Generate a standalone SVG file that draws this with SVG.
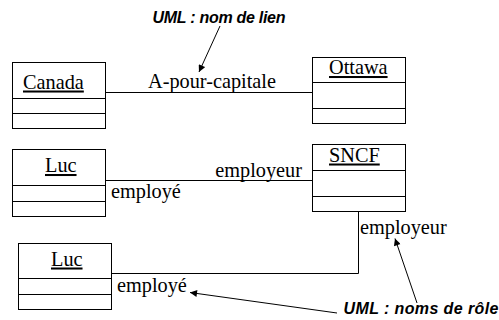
<svg xmlns="http://www.w3.org/2000/svg" width="499" height="320" viewBox="0 0 499 320">
<style>
.box{fill:#fff;stroke:#000;stroke-width:1}
.div{stroke:#000;stroke-width:1}
.t{font-family:"Liberation Serif","Times New Roman",serif;font-size:20.3px;fill:#000}
.u{text-decoration:underline}
.note{font-family:"Liberation Sans",Arial,sans-serif;font-size:16px;font-weight:bold;font-style:italic;fill:#000}
.c{fill:none;stroke:#000;stroke-width:1}
.a{fill:none;stroke:#000;stroke-width:1;marker-end:url(#ah)}
</style>
<defs>
<marker id="ah" viewBox="0 0 10 10" refX="10" refY="5" markerWidth="9" markerHeight="7" markerUnits="userSpaceOnUse" orient="auto">
<path d="M0,0 L10,5 L0,10 z" fill="#000"/>
</marker>
</defs>
<rect width="499" height="320" fill="#fff"/>
<g id="connectors">
<path class="c" d="M105.5,92.5 H312.5"/>
<path class="c" d="M105.5,180.5 H312.5"/>
<path class="c" d="M111.5,273.5 H358.5 V211.5"/>
<path class="a" d="M220,26 L199,72"/>
<path class="a" d="M337,313 L190,292.5"/>
<path class="a" d="M417,303 L395,238.5"/>
<text class="t" x="148" y="88">A-pour-capitale</text>
<text class="t" x="302" y="176.5" text-anchor="end">employeur</text>
<text class="t" x="111" y="198">employé</text>
<text class="t" x="117" y="291.5">employé</text>
<text class="t" x="360" y="234">employeur</text>
</g>
<g id="note-lien">
<text class="note" x="152.5" y="22.5" textLength="133">UML : nom de lien</text>
</g>
<g id="note-role">
<text class="note" x="343.5" y="313.5" textLength="155">UML : noms de rôle</text>
</g>
<g id="canada">
<rect class="box" x="12.5" y="62.5" width="93" height="66"/>
<line class="div" x1="12.5" y1="98.5" x2="105.5" y2="98.5"/>
<line class="div" x1="12.5" y1="113.5" x2="105.5" y2="113.5"/>
<text class="t u" x="23" y="88.5">Canada</text>
</g>
<g id="ottawa">
<rect class="box" x="312.5" y="57.5" width="93" height="66"/>
<line class="div" x1="312.5" y1="82.5" x2="405.5" y2="82.5"/>
<line class="div" x1="312.5" y1="108.5" x2="405.5" y2="108.5"/>
<text class="t u" x="329" y="74">Ottawa</text>
</g>
<g id="luc1">
<rect class="box" x="12.5" y="149.5" width="93" height="67"/>
<line class="div" x1="12.5" y1="185.5" x2="105.5" y2="185.5"/>
<line class="div" x1="12.5" y1="201.5" x2="105.5" y2="201.5"/>
<text class="t u" x="45" y="172">Luc</text>
</g>
<g id="sncf">
<rect class="box" x="312.5" y="144.5" width="93" height="67"/>
<line class="div" x1="312.5" y1="170.5" x2="405.5" y2="170.5"/>
<line class="div" x1="312.5" y1="196.5" x2="405.5" y2="196.5"/>
<text class="t u" x="329" y="161.5">SNCF</text>
</g>
<g id="luc2">
<rect class="box" x="18.5" y="243.5" width="93" height="66"/>
<line class="div" x1="18.5" y1="278.5" x2="111.5" y2="278.5"/>
<line class="div" x1="18.5" y1="294.5" x2="111.5" y2="294.5"/>
<text class="t u" x="51" y="265.5">Luc</text>
</g>
</svg>
